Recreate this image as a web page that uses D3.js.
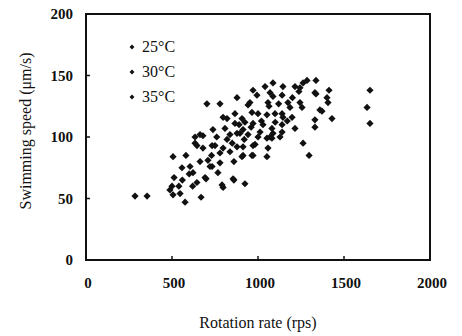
<!DOCTYPE html>
<html lang="en">
<head>
<meta charset="UTF-8">
<title>Swimming speed vs rotation rate</title>
<script src="https://d3js.org/d3.v7.min.js"></script>
<style>
    body { margin: 0; background: white; }
    svg { display: block; }
    text { font-family: "Liberation Serif", "Times New Roman", serif; fill: #111; }
</style>
</head>
<body>
<svg width="462" height="336"></svg>
<script>
    // data (rotation rate rps, swimming speed um/s)
    const series25 = [
        [285, 52], [355, 52], [488, 57], [506, 53], [547, 54], [576, 47], [500, 60], [512, 67],
        [506, 84], [581, 85], [558, 75], [605, 76], [622, 71], [645, 63], [669, 51], [698, 66],
        [663, 80], [709, 81], [733, 76], [767, 71], [797, 59], [860, 65], [924, 62], [791, 61],
        [855, 66], [692, 67], [779, 79], [721, 76], [600, 70], [560, 65], [540, 60], [730, 85],
        [860, 80], [620, 60]
    ];
    const series30 = [
        [645, 93], [680, 101], [663, 102], [634, 95], [680, 91], [733, 93], [750, 93], [779, 87],
        [797, 91], [820, 98], [837, 88], [878, 92], [878, 103], [907, 84], [913, 92], [942, 102],
        [965, 85], [983, 94], [1052, 84], [1058, 91], [1052, 99], [1081, 99], [1262, 95], [1297, 85],
        [1140, 104], [971, 93], [971, 85], [913, 85], [634, 100], [738, 106], [808, 107], [837, 102],
        [895, 103], [913, 106], [1012, 104], [1087, 103], [1128, 100], [1070, 100], [850, 95],
        [920, 98], [760, 100], [1000, 100], [960, 108], [890, 110], [820, 115]
    ];
    const series35 = [
        [703, 127], [779, 127], [878, 132], [942, 126], [797, 116], [866, 119], [866, 111], [907, 115],
        [924, 112], [971, 111], [1029, 110], [1081, 107], [1140, 110], [1215, 107], [953, 128], [965, 120],
        [1000, 119], [1052, 118], [1099, 119], [1140, 119], [1186, 124], [1256, 124], [1058, 128], [1174, 128],
        [1244, 128], [1064, 125], [1145, 116], [1198, 116], [1331, 108], [1331, 114], [1360, 122], [1430, 115],
        [1372, 121], [1407, 128], [1401, 132], [971, 138], [1041, 141], [1087, 144], [1145, 141], [994, 134],
        [1070, 136], [1140, 134], [1087, 133], [1262, 144], [1285, 146], [1337, 146], [1244, 140], [1331, 136],
        [1238, 137], [1215, 141], [1413, 138], [1337, 135], [1651, 138], [1634, 124], [1651, 111],
        [1020, 113], [1100, 112], [1170, 113], [1200, 132], [1120, 127]
    ];
    const legendLabels = ["25°C", "30°C", "35°C"];
    const xTicks = [0, 500, 1000, 1500, 2000];
    const yTicks = [0, 50, 100, 150, 200];

    const svg = d3.select("svg");
    const x = d3.scaleLinear().domain([0, 2000]).range([86, 430]);
    const y = d3.scaleLinear().domain([0, 200]).range([260, 14]);

    // frame
    svg.append("rect")
        .attr("x", x(0)).attr("y", y(200))
        .attr("width", x(2000) - x(0)).attr("height", y(0) - y(200))
        .attr("fill", "none").attr("stroke", "#111").attr("stroke-width", 2);

    // inward ticks
    svg.append("g").selectAll("line")
        .data(xTicks.slice(1, -1)).enter().append("line")
        .attr("x1", d => x(d)).attr("x2", d => x(d))
        .attr("y1", y(0)).attr("y2", y(0) - 4)
        .attr("stroke", "#111").attr("stroke-width", 1.5);
    svg.append("g").selectAll("line")
        .data(yTicks.slice(1, -1)).enter().append("line")
        .attr("x1", x(0)).attr("x2", x(0) + 4)
        .attr("y1", d => y(d)).attr("y2", d => y(d))
        .attr("stroke", "#111").attr("stroke-width", 1.5);

    // tick labels
    svg.append("g").selectAll("text")
        .data(xTicks).enter().append("text")
        .attr("x", d => x(d) + 2).attr("y", 288)
        .attr("text-anchor", "middle")
        .attr("font-size", 15).attr("font-weight", "bold")
        .text(d => d);
    svg.append("g").selectAll("text")
        .data(yTicks).enter().append("text")
        .attr("x", 73).attr("y", d => y(d) + 5)
        .attr("text-anchor", "end")
        .attr("font-size", 15).attr("font-weight", "bold")
        .text(d => d);

    // axis titles
    svg.append("text")
        .attr("x", 258).attr("y", 328)
        .attr("text-anchor", "middle").attr("font-size", 16)
        .text("Rotation rate (rps)");
    svg.append("text")
        .attr("transform", "translate(31,131) rotate(-90)")
        .attr("text-anchor", "middle").attr("font-size", 16)
        .text("Swimming speed (μm/s)");

    // points
    const diamond = d3.symbol().type(d3.symbolSquare).size(26);
    const all = [series25, series30, series35];
    all.forEach(s => {
        svg.append("g").selectAll("path")
            .data(s).enter().append("path")
            .attr("d", diamond)
            .attr("transform", d => `translate(${x(d[0])},${y(d[1])}) rotate(45)`)
            .attr("fill", "#111");
    });

    // legend
    const leg = svg.append("g");
    legendLabels.forEach((lab, i) => {
        const ly = 47 + i * 25;
        leg.append("path")
            .attr("d", d3.symbol().type(d3.symbolSquare).size(12))
            .attr("transform", `translate(132,${ly}) rotate(45)`)
            .attr("fill", "#111");
        leg.append("text")
            .attr("x", 142).attr("y", ly + 5)
            .attr("font-size", 16)
            .text(lab);
    });
</script>
</body>
</html>
